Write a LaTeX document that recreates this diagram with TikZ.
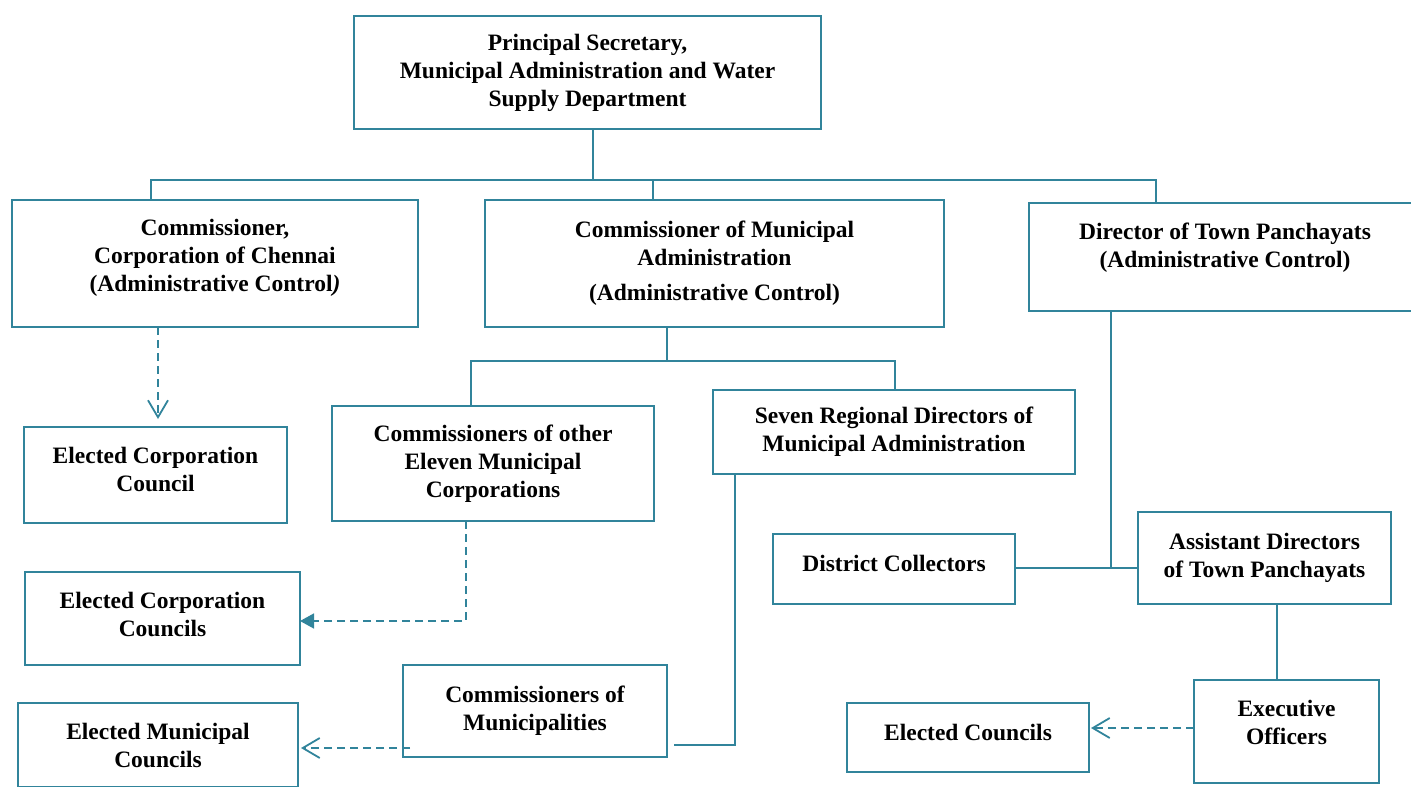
\documentclass[tikz,border=0pt]{standalone}
\usepackage{fontspec}
\setmainfont{Liberation Serif}
\usetikzlibrary{arrows.meta}
\definecolor{tealline}{HTML}{31849B}

\begin{document}
\begin{tikzpicture}[x=1pt, y=-1pt,
   box/.style = {draw=tealline, line width=1.8pt,
                 font=\bfseries\fontsize{23.5}{28}\selectfont,
                 align=center, inner sep=0pt, outer sep=0pt},
  line/.style = {draw=tealline, line width=1.6pt},
   dsh/.style = {line, dash pattern=on 8pt off 5pt},
   arr/.style = {-{Straight Barb[length=17pt,width=20pt,line width=1.8pt]}},
   tri/.style = {-{Triangle[length=14pt,width=15pt]}}
                        ]
\useasboundingbox (0,0) rectangle (1411,787);
    % blocks (boxes)
\node (ps)  [box, minimum width=467, minimum height=113] at (587.5,72.5)
            {Principal Secretary,\\Municipal Administration and Water\\Supply Department};
\node (cc)  [box, minimum width=406, minimum height=127, text depth=17pt] at (215,263.5)
            {Commissioner,\\Corporation of Chennai\\(Administrative Control\textit{)}};
\node (cm)  [box, minimum width=459, minimum height=127] at (714.5,263.5)
            {Commissioner of Municipal\\Administration\\[7pt](Administrative Control)};
\node (dt)  [box, minimum width=392, minimum height=108, text depth=23pt] at (1225,257)
            {Director of Town Panchayats\\(Administrative Control)};
\node (ec1) [box, minimum width=263, minimum height=96, text depth=12pt]  at (155.5,475)
            {Elected Corporation\\Council};
\node (co)  [box, minimum width=322, minimum height=115] at (493,463.5)
            {Commissioners of other\\Eleven Municipal\\Corporations};
\node (sr)  [box, minimum width=362, minimum height=84]  at (894,432)
            {Seven Regional Directors of\\Municipal Administration};
\node (ec2) [box, minimum width=275, minimum height=93, text depth=8pt]  at (162.5,618.5)
            {Elected Corporation\\Councils};
\node (dc)  [box, minimum width=242, minimum height=70, text depth=12pt]  at (894,569)
            {District Collectors};
\node (ad)  [box, minimum width=253, minimum height=92]  at (1264.5,558)
            {Assistant Directors\\of Town Panchayats};
\node (mu)  [box, minimum width=264, minimum height=92]  at (535,711)
            {Commissioners of\\Municipalities};
\node (em)  [box, minimum width=280, minimum height=84]  at (158,745)
            {Elected Municipal\\Councils};
\node (ec)  [box, minimum width=242, minimum height=69, text depth=10pt]  at (968,737.5)
            {Elected Councils};
\node (eo)  [box, minimum width=185, minimum height=103, text depth=18pt] at (1286.5,731.5)
            {Executive\\Officers};
    % junctions
\coordinate (b0) at (593,180);
\coordinate (b1) at (151,180);
\coordinate (b2) at (653,180);
\coordinate (b3) at (1156,180);
\coordinate (k0) at (667,361);
\coordinate (k1) at (471,361);
\coordinate (k2) at (895,361);
\coordinate (a1) at (158,0);
\coordinate (a2) at (466,621);
\coordinate (a3) at (735,745);
\coordinate (a4) at (0,748);
\coordinate (a5) at (1111,568);
\coordinate (a6) at (1277,0);
\coordinate (a7) at (0,728);
    % connectors
\draw[line] (ps.south -| b0) -- (b0);
\draw[line] (cc.north -| b1) -- (b1) -- (b3) -- (dt.north -| b3);
\draw[line] (b2) -- (cm.north -| b2);
\draw[line] (cm.south -| k0) -- (k0);
\draw[line] (co.north -| k1) -- (k1) -- (k2) -- (sr.north -| k2);
\draw[dsh,arr,shorten >=8pt] (cc.south -| a1) -- (ec1.north -| a1);
\draw[dsh,tri] (co.south -| a2) -- (a2) -- (ec2.east |- a2);
\draw[line,shorten >=7pt] (sr.south -| a3) -- (a3) -- (mu.east |- a3);
\draw[dsh,arr] ([xshift=7pt]mu.west |- a4) -- ([xshift=3pt]em.east |- a4);
\draw[line] (dt.south -| a5) -- (a5);
\draw[line] (dc.east |- a5) -- (ad.west |- a5);
\draw[line] (ad.south -| a6) -- (eo.north -| a6);
\draw[dsh,arr] (eo.west |- a7) -- ([xshift=2pt]ec.east |- a7);
\end{tikzpicture}
\end{document}
